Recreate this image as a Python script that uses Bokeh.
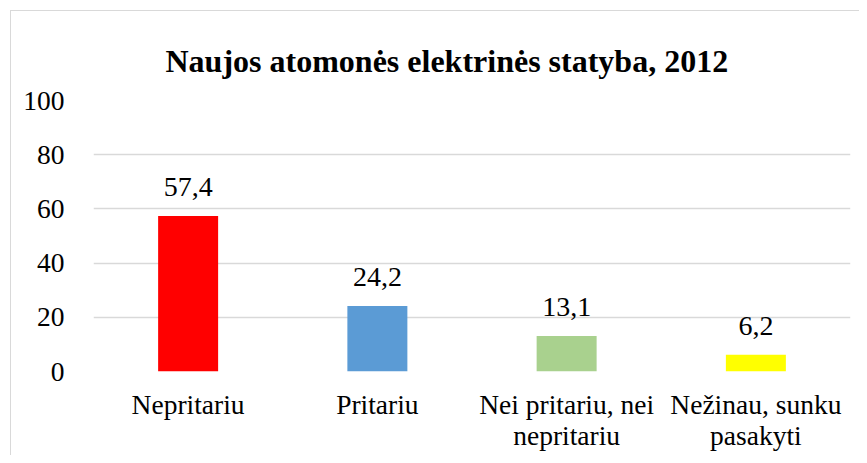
from bokeh.plotting import figure
from bokeh.models import ColumnDataSource, FactorRange, FixedTicker
from bokeh.core.properties import value
from bokeh.embed import file_html
from bokeh.resources import INLINE

categories = ["Nepritariu", "Pritariu", "Nei pritariu, nei\nnepritariu", "Nežinau, sunku\npasakyti"]
values = [57.4, 24.2, 13.1, 6.2]
value_labels = ["57,4", "24,2", "13,1", "6,2"]
colors = ["#FF0000", "#5B9BD5", "#A9D18E", "#FFFF00"]
y_ticks = [0, 20, 40, 60, 80, 100]
title_text = "Naujos atomonės elektrinės statyba, 2012"

FONT = "Liberation Serif"

src = ColumnDataSource(dict(cat=categories, val=values, lab=value_labels, col=colors))

p = figure(
    x_range=FactorRange(factors=categories),
    y_range=(0, 100),
    frame_width=757, frame_height=271,
    output_backend="svg", toolbar_location=None,
    min_border_left=82, min_border_right=9, min_border_top=89, min_border_bottom=84,
)
# outer chart border (light grey) on the left and top
p.styles = {"border-left": "1px solid #D9D9D9", "border-top": "1px solid #D9D9D9",
            "margin-left": "10px", "margin-top": "10px"}

p.title.text = title_text
p.title.text_font = FONT
p.title.text_font_size = "32px"
p.title.text_font_style = "bold"
p.title.text_color = "#000000"
p.title.align = "left"
p.title.offset = 72
p.title.standoff = 44

p.vbar(x="cat", top="val", width=0.317, color="col", source=src, line_color=None)
p.text(x="cat", y="val", text="lab", source=src, text_align="center",
       text_baseline="alphabetic", y_offset=-29,
       text_font=value(FONT), text_font_size="28px", text_color="#000000")

p.outline_line_color = None
p.xgrid.grid_line_color = None
p.ygrid.grid_line_color = "#D9D9D9"
p.ygrid.grid_line_width = 1.3
p.yaxis.ticker = FixedTicker(ticks=y_ticks)

for ax in (p.xaxis[0], p.yaxis[0]):
    ax.axis_line_color = None
    ax.major_tick_line_color = None
    ax.minor_tick_line_color = None
    ax.major_label_text_font = FONT
    ax.major_label_text_font_size = "27.5px"
    ax.major_label_text_color = "#000000"

p.xaxis.major_label_text_line_height = 1.0
p.yaxis.major_label_standoff = 23
p.xaxis.major_label_standoff = 11

open("out.html", "w").write(file_html(p, INLINE))
